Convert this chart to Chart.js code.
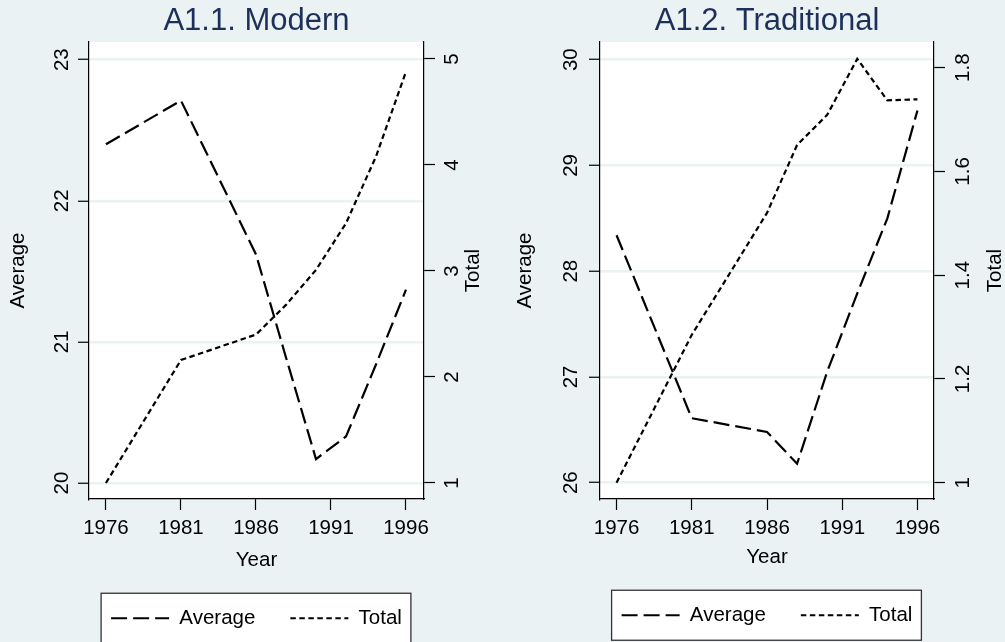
<!DOCTYPE html>
<html>
<head>
<meta charset="utf-8">
<style>
  body { margin: 0; background: #eaf2f3; }
  #wrap { position: relative; width: 1005px; height: 642px; background: #eaf2f3; overflow: hidden; }
  canvas { position: absolute; top: 0; }
</style>
</head>
<body>
<div id="wrap">
  <canvas id="modern" width="513" height="642" style="left:0px"></canvas>
  <canvas id="traditional" width="534" height="642" style="left:500px"></canvas>
</div>
<script src="https://cdn.jsdelivr.net/npm/chart.js"></script>
<script>
    // data
    const years = [1976, 1981, 1986, 1988, 1990, 1992, 1994, 1996];
    const modernAverage = [22.40, 22.71, 21.62, 20.89, 20.17, 20.33, 20.84, 21.37];
    const modernTotal = [1.00, 2.16, 2.40, 2.68, 3.01, 3.45, 4.08, 4.88];
    const traditionalAverage = [28.34, 26.61, 26.48, 26.18, 27.05, 27.79, 28.50, 29.52];
    const traditionalTotal = [1.00, 1.285, 1.52, 1.651, 1.709, 1.817, 1.737, 1.739];

    const yearTicks = [1976, 1981, 1986, 1991, 1996];
    const modernAverageTicks = [20, 21, 22, 23];
    const modernTotalTicks = [1, 2, 3, 4, 5];
    const traditionalAverageTicks = [26, 27, 28, 29, 30];
    const traditionalTotalTicks = [1, 1.2, 1.4, 1.6, 1.8];

    Chart.defaults.font.family = '"Liberation Sans", Arial, Helvetica, sans-serif';
    Chart.defaults.color = '#000';

    const FONT = 20.5;
    const BG = '#eaf2f3';
    const LINE_W = 2.2;

    function pairs(xs, ys) {
        return xs.map((x, i) => ({ x: x, y: ys[i] }));
    }

    function makePanel(id, p) {
        // white plot region, legend frame, upward-reading right axis title
        const stataLook = {
            id: 'stataLook',
            beforeDraw(chart) {
                const a = chart.chartArea;
                const ctx = chart.ctx;
                ctx.save();
                ctx.fillStyle = '#fff';
                ctx.fillRect(a.left, a.top, a.right - a.left, a.bottom - a.top);
                ctx.restore();
            },
            afterDraw(chart) {
                const ctx = chart.ctx;
                const hb = chart.legend.legendHitBoxes;
                if (hb && hb.length) {
                    const last = hb[hb.length - 1];
                    const left = hb[0].left - 10;
                    const right = last.left + last.width + 9;
                    const cy = hb[0].top + hb[0].height / 2;
                    ctx.save();
                    ctx.globalCompositeOperation = 'destination-over';
                    ctx.fillStyle = '#fff';
                    ctx.fillRect(left, cy - 25, right - left, 50);
                    ctx.restore();
                    ctx.save();
                    ctx.strokeStyle = '#333';
                    ctx.lineWidth = 1.3;
                    ctx.strokeRect(left, cy - 25, right - left, 50);
                    ctx.restore();
                }
                const s = chart.scales.y2;
                ctx.save();
                ctx.translate(s.left + p.rightTitleOffset, (s.top + s.bottom) / 2);
                ctx.rotate(-Math.PI / 2);
                ctx.font = FONT + 'px ' + Chart.defaults.font.family;
                ctx.fillStyle = '#000';
                ctx.textAlign = 'center';
                ctx.textBaseline = 'middle';
                ctx.fillText('Total', 0, 0);
                ctx.restore();
            }
        };

        const fmt = v => String(v);

        new Chart(document.getElementById(id).getContext('2d'), {
            type: 'line',
            data: {
                datasets: [
                    {
                        label: 'Average',
                        data: pairs(years, p.average),
                        yAxisID: 'y',
                        borderColor: '#000',
                        borderWidth: LINE_W,
                        borderDash: [16, 6],
                        pointRadius: 0,
                        fill: false,
                        tension: 0
                    },
                    {
                        label: 'Total',
                        data: pairs(years, p.total),
                        yAxisID: 'y2',
                        borderColor: '#000',
                        borderWidth: LINE_W,
                        borderDash: [5.5, 3.5],
                        pointRadius: 0,
                        fill: false,
                        tension: 0
                    }
                ]
            },
            options: {
                responsive: false,
                animation: false,
                layout: { padding: { left: 0, right: 0, top: 0, bottom: p.bottomPad } },
                plugins: {
                    tooltip: { enabled: false },
                    title: {
                        display: true,
                        text: p.title,
                        color: '#1e2f5a',
                        fullSize: false,
                        font: { size: 31, weight: 'normal' },
                        padding: { top: 2.4, bottom: 2.4 }
                    },
                    legend: {
                        position: 'bottom',
                        labels: {
                            usePointStyle: true,
                            pointStyle: 'line',
                            pointStyleWidth: 58,
                            padding: 35,
                            color: '#000',
                            font: { size: FONT },
                            generateLabels: chart => Chart.defaults.plugins.legend.labels.generateLabels(chart).map(l => {
                                const ds = chart.data.datasets[l.datasetIndex];
                                l.lineDash = ds.borderDash;
                                l.lineWidth = ds.borderWidth;
                                l.strokeStyle = ds.borderColor;
                                return l;
                            })
                        }
                    }
                },
                scales: {
                    x: {
                        type: 'linear',
                        position: 'bottom',
                        min: p.xMin,
                        max: p.xMax,
                        afterBuildTicks: s => { s.ticks = yearTicks.map(v => ({ value: v })); },
                        afterFit: s => { s.height = p.xHeight; },
                        ticks: { autoSkip: false, padding: 6, font: { size: FONT }, callback: fmt },
                        grid: { drawOnChartArea: false, drawTicks: true, tickLength: 11, tickColor: '#000', tickWidth: 1.2 },
                        border: { display: true, color: '#000', width: 1.2 },
                        title: { display: true, text: 'Year', font: { size: FONT }, padding: { top: 0, bottom: 0 } }
                    },
                    y: {
                        type: 'linear',
                        position: 'left',
                        min: p.yMin,
                        max: p.yMax,
                        afterBuildTicks: s => { s.ticks = p.yTicks.map(v => ({ value: v })); },
                        afterFit: s => { s.width = p.yWidth; },
                        ticks: { autoSkip: false, minRotation: 90, maxRotation: 90, crossAlign: 'center', padding: p.yPad, font: { size: FONT }, callback: fmt },
                        grid: { color: BG, lineWidth: 2.5, drawTicks: true, tickLength: 11, tickColor: '#000', tickWidth: 1.2 },
                        border: { display: true, color: '#000', width: 1.2 },
                        title: { display: true, text: 'Average', font: { size: FONT }, padding: { top: p.yTitlePad, bottom: 0 } }
                    },
                    y2: {
                        type: 'linear',
                        position: 'right',
                        min: p.y2Min,
                        max: p.y2Max,
                        afterBuildTicks: s => { s.ticks = p.y2Ticks.map(v => ({ value: v })); },
                        afterFit: s => { s.width = p.y2Width; },
                        ticks: { autoSkip: false, minRotation: 90, maxRotation: 90, crossAlign: 'center', padding: p.y2Pad, font: { size: FONT }, callback: fmt },
                        grid: { drawOnChartArea: false, drawTicks: true, tickLength: 11, tickColor: '#000', tickWidth: 1.2 },
                        border: { display: true, color: '#000', width: 1.2 },
                        title: { display: false }
                    }
                }
            },
            plugins: [stataLook]
        });
    }

    makePanel('modern', {
        title: 'A1.1. Modern',
        average: modernAverage, total: modernTotal,
        yTicks: modernAverageTicks, y2Ticks: modernTotalTicks,
        xMin: 1974.87, xMax: 1997.2,
        yMin: 19.887, yMax: 23.125,
        y2Min: 0.849, y2Max: 5.16,
        yWidth: 89, y2Width: 89, xHeight: 74, bottomPad: 3.5,
        yPad: 4.6, y2Pad: 11.6, yTitlePad: 5.7, rightTitleOffset: 49
    });

    makePanel('traditional', {
        title: 'A1.2. Traditional',
        average: traditionalAverage, total: traditionalTotal,
        yTicks: traditionalAverageTicks, y2Ticks: traditionalTotalTicks,
        xMin: 1974.9, xMax: 1997.1,
        yMin: 25.846, yMax: 30.167,
        y2Min: 0.9686, y2Max: 1.8495,
        yWidth: 100, y2Width: 100, xHeight: 71, bottomPad: 6.5,
        yPad: 5.9, y2Pad: 4, yTitlePad: 12.7, rightTitleOffset: 61
    });
</script>
</body>
</html>
